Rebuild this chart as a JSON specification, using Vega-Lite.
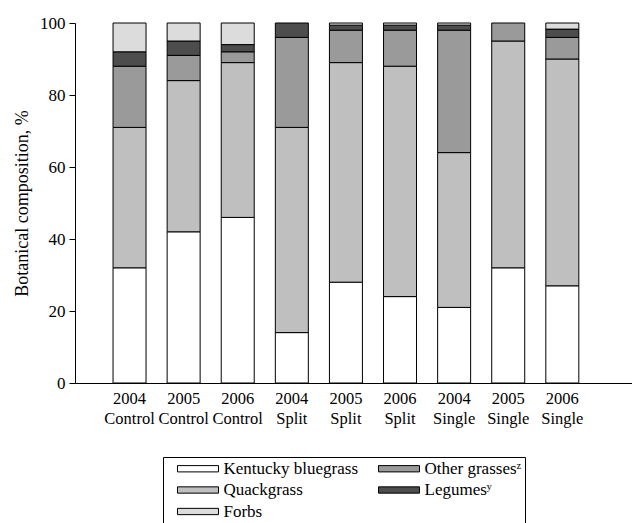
{
  "$schema": "https://vega.github.io/schema/vega-lite/v6.json",
  "autosize": {"type": "none"},
  "padding": {"left": 75, "top": 23, "right": 0, "bottom": 140},
  "width": 557,
  "height": 360,
  "background": "white",
  "config": {
    "view": {"stroke": null},
    "font": "Liberation Serif",
    "axis": {"labelFont": "Liberation Serif", "titleFont": "Liberation Serif", "labelColor": "black", "titleColor": "black", "domainColor": "black", "tickColor": "black", "grid": false, "titleFontWeight": "normal"},
    "legend": {"labelFont": "Liberation Serif", "labelColor": "black"}
  },
  "data": {
    "values": [
      {"trt": "2004\nControl", "species": "Kentucky bluegrass", "pct": 32},
      {"trt": "2004\nControl", "species": "Quackgrass", "pct": 39},
      {"trt": "2004\nControl", "species": "Other grassesᶻ", "pct": 17},
      {"trt": "2004\nControl", "species": "Legumesʸ", "pct": 4},
      {"trt": "2004\nControl", "species": "Forbs", "pct": 8},
      {"trt": "2005\nControl", "species": "Kentucky bluegrass", "pct": 42},
      {"trt": "2005\nControl", "species": "Quackgrass", "pct": 42},
      {"trt": "2005\nControl", "species": "Other grassesᶻ", "pct": 7},
      {"trt": "2005\nControl", "species": "Legumesʸ", "pct": 4},
      {"trt": "2005\nControl", "species": "Forbs", "pct": 5},
      {"trt": "2006\nControl", "species": "Kentucky bluegrass", "pct": 46},
      {"trt": "2006\nControl", "species": "Quackgrass", "pct": 43},
      {"trt": "2006\nControl", "species": "Other grassesᶻ", "pct": 3},
      {"trt": "2006\nControl", "species": "Legumesʸ", "pct": 2},
      {"trt": "2006\nControl", "species": "Forbs", "pct": 6},
      {"trt": "2004\nSplit", "species": "Kentucky bluegrass", "pct": 14},
      {"trt": "2004\nSplit", "species": "Quackgrass", "pct": 57},
      {"trt": "2004\nSplit", "species": "Other grassesᶻ", "pct": 25},
      {"trt": "2004\nSplit", "species": "Legumesʸ", "pct": 4},
      {"trt": "2005\nSplit", "species": "Kentucky bluegrass", "pct": 28},
      {"trt": "2005\nSplit", "species": "Quackgrass", "pct": 61},
      {"trt": "2005\nSplit", "species": "Other grassesᶻ", "pct": 9},
      {"trt": "2005\nSplit", "species": "Legumesʸ", "pct": 1.4},
      {"trt": "2005\nSplit", "species": "Forbs", "pct": 0.6},
      {"trt": "2006\nSplit", "species": "Kentucky bluegrass", "pct": 24},
      {"trt": "2006\nSplit", "species": "Quackgrass", "pct": 64},
      {"trt": "2006\nSplit", "species": "Other grassesᶻ", "pct": 10},
      {"trt": "2006\nSplit", "species": "Legumesʸ", "pct": 1.4},
      {"trt": "2006\nSplit", "species": "Forbs", "pct": 0.6},
      {"trt": "2004\nSingle", "species": "Kentucky bluegrass", "pct": 21},
      {"trt": "2004\nSingle", "species": "Quackgrass", "pct": 43},
      {"trt": "2004\nSingle", "species": "Other grassesᶻ", "pct": 34},
      {"trt": "2004\nSingle", "species": "Legumesʸ", "pct": 1.4},
      {"trt": "2004\nSingle", "species": "Forbs", "pct": 0.6},
      {"trt": "2005\nSingle", "species": "Kentucky bluegrass", "pct": 32},
      {"trt": "2005\nSingle", "species": "Quackgrass", "pct": 63},
      {"trt": "2005\nSingle", "species": "Other grassesᶻ", "pct": 5},
      {"trt": "2006\nSingle", "species": "Kentucky bluegrass", "pct": 27},
      {"trt": "2006\nSingle", "species": "Quackgrass", "pct": 63},
      {"trt": "2006\nSingle", "species": "Other grassesᶻ", "pct": 6},
      {"trt": "2006\nSingle", "species": "Legumesʸ", "pct": 2.3},
      {"trt": "2006\nSingle", "species": "Forbs", "pct": 1.7}
    ]
  },
  "transform": [
    {"calculate": "indexof(['Kentucky bluegrass','Quackgrass','Other grassesᶻ','Legumesʸ','Forbs'], datum.species)", "as": "stackOrder"}
  ],
  "mark": {"type": "bar", "stroke": "black", "strokeWidth": 1},
  "encoding": {
    "x": {
      "field": "trt",
      "type": "nominal",
      "sort": ["2004\nControl", "2005\nControl", "2006\nControl", "2004\nSplit", "2005\nSplit", "2006\nSplit", "2004\nSingle", "2005\nSingle", "2006\nSingle"],
      "scale": {"paddingInner": 0.39, "paddingOuter": 0.843, "align": 0.417},
      "axis": {"title": null, "ticks": false, "labelAngle": 0, "labelFont": "Liberation Serif", "labelFontSize": 16.5, "labelPadding": 7, "labelLineHeight": 20, "labelExpr": "split(datum.label, '\\n')", "labelBaseline": "top"}
    },
    "y": {
      "field": "pct",
      "type": "quantitative",
      "stack": "zero",
      "scale": {"domain": [0, 100], "nice": false},
      "axis": {"title": "Botanical composition, %", "values": [0, 20, 40, 60, 80, 100], "tickSize": 6, "labelFont": "Liberation Serif", "titleFont": "Liberation Serif", "labelFontSize": 17, "labelPadding": 4, "titleFontSize": 18, "titlePadding": 8}
    },
    "order": {"field": "stackOrder", "type": "quantitative"},
    "fill": {
      "field": "species",
      "type": "nominal",
      "scale": {
        "domain": ["Kentucky bluegrass", "Quackgrass", "Forbs", "Other grassesᶻ", "Legumesʸ"],
        "range": ["#ffffff", "#bfbfbf", "#dcdcdc", "#9a9a9a", "#4d4d4d"]
      },
      "legend": {
        "title": null,
        "orient": "none",
        "legendX": 88,
        "legendY": 434,
        "columns": 2,
        "columnPadding": 8,
        "rowPadding": 3.5,
        "padding": 3,
        "strokeColor": "black",
        "symbolType": "M-5.86,-0.9L5.86,-0.9L5.86,0.9L-5.86,0.9Z",
        "symbolSize": 49,
        "symbolOffset": 23.5,
        "symbolStrokeColor": "black",
        "symbolStrokeWidth": 1,
        "symbolOpacity": 1,
        "labelFont": "Liberation Serif",
        "labelFontSize": 17,
        "labelOffset": 17,
        "labelLimit": 300
      }
    }
  }
}
